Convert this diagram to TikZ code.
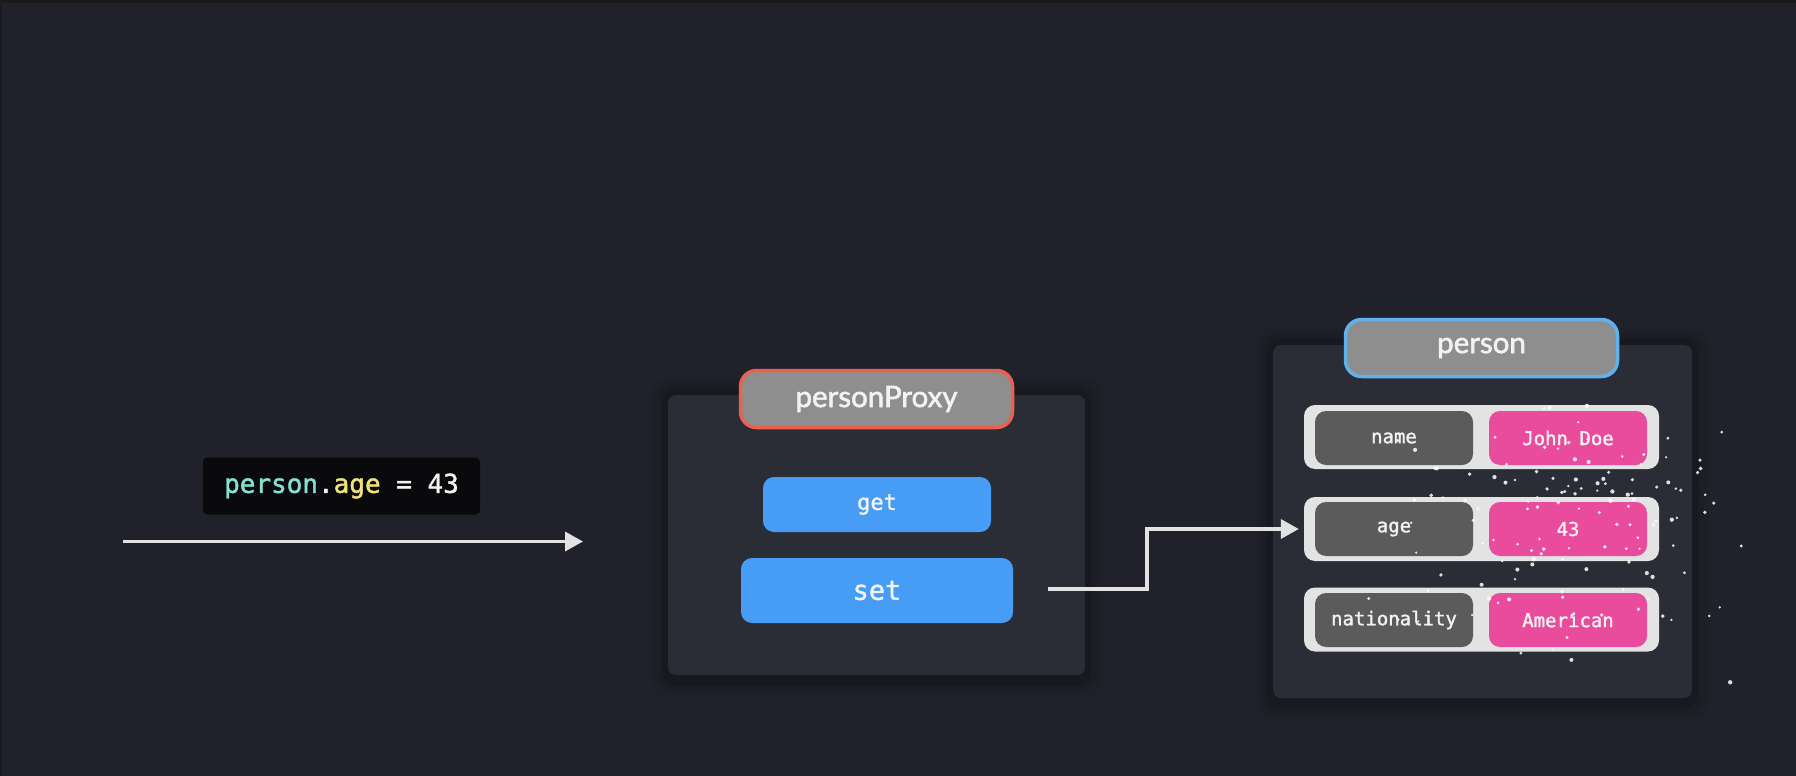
\documentclass[tikz,border=0pt]{standalone}
\usepackage{fontspec}
\setmainfont{Lato}
\newfontfamily\titlef[FakeBold=2]{Lato}
\newfontfamily\monof[FakeBold=1.5]{DejaVu Sans Mono}
\usetikzlibrary{arrows.meta}
\definecolor{edgec}{HTML}{1A1A1A}
\definecolor{bgc}{HTML}{20212A}
\definecolor{panelc}{HTML}{2A2D36}
\definecolor{codebg}{HTML}{0A0A0C}
\definecolor{tealc}{HTML}{86E1CF}
\definecolor{yellc}{HTML}{EEE27A}
\definecolor{whitec}{HTML}{F2F2F2}
\definecolor{arrowc}{HTML}{E2E2E2}
\definecolor{titlec}{HTML}{8E8E8E}
\definecolor{redc}{HTML}{E8624F}
\definecolor{bluebd}{HTML}{5FB2EE}
\definecolor{btnc}{HTML}{479DF5}
\definecolor{keyc}{HTML}{5B5B5B}
\definecolor{valc}{HTML}{E94C9C}
\definecolor{rowc}{HTML}{E3E3E3}
\pgfdeclarelayer{bgl}
\pgfdeclarelayer{shadowl}
\pgfsetlayers{bgl,shadowl,main}
\tikzset{
  panel/.style={fill=panelc, rounded corners=8pt, inner sep=0pt},
  titlebox/.style={fill=titlec, line width=3.5pt, rounded corners=16pt, inner sep=0pt,
     minimum width=272pt, minimum height=57pt, text=whitec, font=\titlef\fontsize{29.5}{34}\selectfont},
  btn/.style={fill=btnc, rounded corners=11pt, inner sep=0pt, text=whitec},
  rowbox/.style={fill=rowc, rounded corners=11pt, inner sep=0pt, minimum width=355pt, minimum height=64pt},
  keybox/.style={fill=keyc, rounded corners=11pt, inner sep=0pt, minimum width=158pt, minimum height=54pt,
     text=whitec, font=\monof\fontsize{19}{22}\selectfont},
  valbox/.style={keybox, fill=valc},
  conn/.style={draw=arrowc, line width=3.5pt, -{Triangle[length=18pt,width=19pt]}},
  sparkle/.style={fill=white, opacity=0.85},
}
\begin{document}
\begin{tikzpicture}[x=1pt,y=-1pt]
\useasboundingbox (0,0) rectangle (1796,776);
\begin{pgfonlayer}{bgl}
\fill[edgec] (0,0) rectangle (1796,776);
\fill[bgc] (2,3) rectangle (1796,776);
\end{pgfonlayer}

% code box
\node[fill=codebg, rounded corners=4pt, minimum width=277pt, minimum height=57pt, inner sep=0pt,
  font=\monof\fontsize{26}{30}\selectfont] (code) at (341.5,486)
  {\textcolor{tealc}{person}\textcolor{whitec}{.}\textcolor{yellc}{age}\textcolor{whitec}{\ =\ 43}};

% panels
\node[panel, minimum width=417pt, minimum height=280pt] (proxyPanel) at (876.5,535) {};
\node[panel, minimum width=419pt, minimum height=353pt] (personPanel) at (1482.5,521.5) {};

\begin{pgfonlayer}{shadowl}
\foreach \p in {proxyPanel,personPanel}{
  \foreach \s/\o in {16/0.05,11/0.07,6/0.09}{
    \fill[black, opacity=\o, rounded corners=14pt]
      ([xshift=-\s pt, yshift=\s pt]\p.north west) rectangle ([xshift=\s pt, yshift=-\s pt-4pt]\p.south east);
  }
}
\end{pgfonlayer}

% titles
\node[titlebox, draw=redc] (proxyTitle) at (876.5,399) {personProxy};
\node[titlebox, draw=bluebd] (personTitle) at (1481.5,348) {person};

% buttons
\node[btn, minimum width=228pt, minimum height=55pt, font=\monof\fontsize{22}{26}\selectfont] (get) at (877,504.5) {get};
\node[btn, minimum width=272pt, minimum height=65pt, font=\monof\fontsize{27}{32}\selectfont] (set) at (877,590.5) {set};

% rows
\node[rowbox] (nameRow) at (1481.5,437) {};
\node[rowbox] (ageRow) at (1481.5,529) {};
\node[rowbox] (natRow) at (1481.5,619.5) {};
\node[keybox] (nameKey) at (1394,438) {name};
\node[valbox] (nameVal) at (1568,438) {John Doe};
\node[keybox] (ageKey) at (1394,529) {age};
\node[valbox] (ageVal) at (1568,529) {43};
\node[keybox] (natKey) at (1394,620) {nationality};
\node[valbox] (natVal) at (1568,620) {American};

% connectors
\coordinate (src) at (123,541.5);
\coordinate (srcEnd) at (583,541.5);
\draw[conn] (src) -- (srcEnd);
\coordinate (bend) at (1147,589);
\draw[conn] ([xshift=35pt, yshift=1.5pt]set.east) -- (bend) |- ([xshift=-5pt]ageRow.west);

% sparkles
\pgfmathsetseed{4242}
\foreach \i in {1,...,130}{
  \pgfmathsetmacro\px{1575 + 85*(rand+rand+rand)}
  \pgfmathsetmacro\py{528 + 58*(rand+rand+rand)}
  \pgfmathsetmacro\rr{1.2 + 1.0*rnd}
  \fill[sparkle] (\px,\py) circle (\rr);
}
\end{tikzpicture}
\end{document}
